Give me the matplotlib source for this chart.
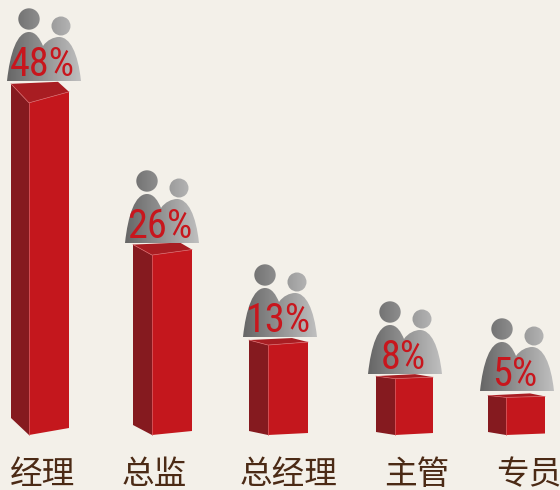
import matplotlib
matplotlib.use('Agg')
import matplotlib.pyplot as plt
import numpy as np
from matplotlib.patches import Polygon, Circle, PathPatch
from matplotlib.path import Path
from matplotlib.transforms import Affine2D

# chart data
categories = ['经理', '总监', '总经理', '主管', '专员']
values = [48, 26, 13, 8, 5]

# layout, in pixels
px_per_pct = 6.92
base_y = 435
bar_left = [11, 133, 249, 376, 488]
bar_front = [29, 152, 268, 395, 506]
bar_right = [69, 192, 308, 433, 545]
# how far the corners drop/rise because of the perspective
side_drop = [19, 10.5, 5, 2.5, 2]
right_rise = [11, 5.5, 3, 1.5, 1]
back_x = [58, 180, 292, 415, 530]
low_left = [17, 10, 4, 3, 3]
low_right = [7, 4, 2, 2, 1.5]
top_nudge = [0, 0, 0, 1, 3]
icon_x = [7, 125, 243, 368, 480]
icon_y = [81, 243, 337, 374, 391]
label_x = [43, 155, 289, 417, 529]

BG = '#f3f0e9'
FRONT = '#c4171d'
SIDE = '#851a1f'
TOP = '#a81d22'
EDGE = '#d9666a'

plt.rcParams['font.family'] = ['Noto Sans CJK SC', 'DejaVu Sans']

fig = plt.figure(figsize=(5.6, 4.9), dpi=100, facecolor=BG)
ax = fig.add_axes([0, 0, 1, 1])
ax.set_xlim(0, 560)
ax.set_ylim(490, 0)
ax.axis('off')

# people shape, origin at bottom left of the icon
body_verts = [(0, 0), (3, -28), (10, -49), (22, -49), (29, -49), (33, -42), (36, -35),
              (40, -41), (47, -44), (52, -44), (63, -44), (71, -28), (74, 0), (0, 0)]
body_codes = [Path.MOVETO] + [Path.CURVE4] * 12 + [Path.LINETO]
grad = np.linspace(0.40, 0.75, 256).reshape(1, -1)

for i, v in enumerate(values):
    top = base_y - v * px_per_pct - top_nudge[i]
    l, f, r = bar_left[i], bar_front[i], bar_right[i]
    ax.add_patch(Polygon([(l, top - side_drop[i]), (f, top), (f, base_y), (l, base_y - low_left[i])],
                         fc=SIDE, ec='none', zorder=2))
    ax.add_patch(Polygon([(f, top), (r, top - right_rise[i]), (r, base_y - low_right[i]), (f, base_y)],
                         fc=FRONT, ec='none', zorder=2))
    ax.add_patch(Polygon([(l, top - side_drop[i]), (back_x[i], top - side_drop[i] - 2),
                          (r, top - right_rise[i]), (f, top)],
                         fc=TOP, ec='none', zorder=2))
    ax.plot([l, f, r], [top - side_drop[i], top, top - right_rise[i]], color=EDGE, lw=0.5, zorder=3)
    ax.plot([f, f], [top, base_y], color=EDGE, lw=0.5, zorder=3)

    # icon with a gradient running across it
    ix, iy = icon_x[i], icon_y[i]
    shift = Affine2D().translate(ix, iy) + ax.transData
    parts = [PathPatch(Path(body_verts, body_codes), transform=shift),
             Circle((22, -62), 10.7, transform=shift),
             Circle((54, -55), 9.5, transform=shift)]
    for part in parts:
        im = ax.imshow(grad, cmap='gray', vmin=0, vmax=1, aspect='auto',
                       extent=(ix, ix + 74, iy, iy - 73), zorder=4, interpolation='bilinear')
        ax.add_patch(part)
        part.set_visible(False)
        im.set_clip_path(part)

    ax.text(ix + 35, iy - 5, f'{v}%', color='#c8161d', fontsize=29, ha='center', va='baseline',
            family='Roboto Condensed', weight=400, zorder=5)
    ax.text(label_x[i] - 0.5, 475, categories[i], color='#4b2a15', fontsize=23.5, ha='center', va='center', zorder=5)

ax.set_xlim(0, 560)
ax.set_ylim(490, 0)
fig.savefig('out.png', dpi=100, facecolor=BG)
